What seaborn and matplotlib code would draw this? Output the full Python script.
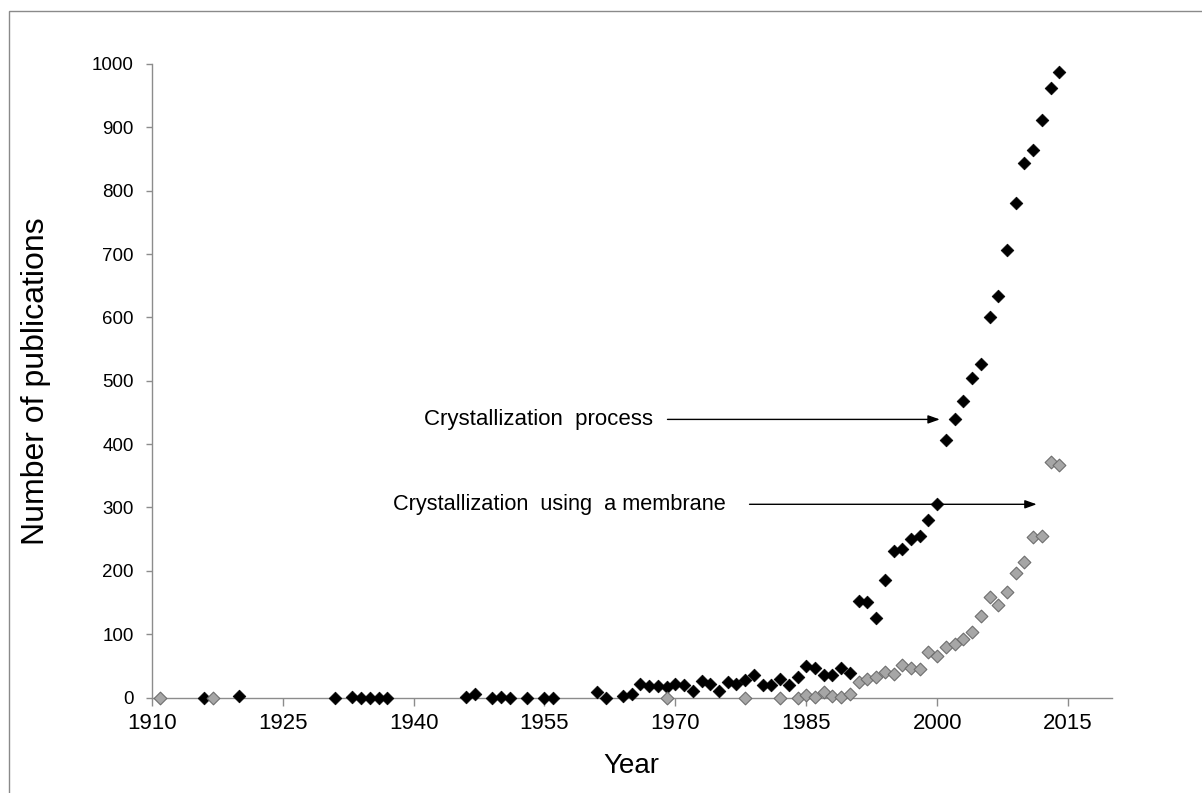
import pandas as pd
import seaborn as sns
import matplotlib.pyplot as plt
from matplotlib.patches import Rectangle

# Crystallization process (all publications)
process_years = [1916, 1920, 1931, 1933, 1934, 1935, 1936, 1937, 1946, 1947,
                 1949, 1950, 1951, 1953, 1955, 1956, 1961, 1962, 1964, 1965,
                 1966, 1967, 1968, 1969, 1970, 1971, 1972, 1973, 1974, 1975,
                 1976, 1977, 1978, 1979, 1980, 1981, 1982, 1983, 1984, 1985,
                 1986, 1987, 1988, 1989, 1990, 1991, 1992, 1993, 1994, 1995,
                 1996, 1997, 1998, 1999, 2000, 2001, 2002, 2003, 2004, 2005,
                 2006, 2007, 2008, 2009, 2010, 2011, 2012, 2013, 2014]
process_counts = [0, 2, 0, 1, 0, 0, 0, 0, 1, 5,
                  0, 1, 0, 0, 0, 0, 9, 0, 2, 5,
                  21, 18, 18, 16, 22, 19, 10, 26, 21, 10,
                  25, 21, 28, 35, 19, 19, 30, 20, 33, 50,
                  47, 35, 35, 47, 38, 153, 151, 126, 186, 232,
                  235, 250, 255, 281, 306, 407, 440, 468, 505, 526,
                  601, 634, 707, 781, 844, 864, 911, 962, 988]

# Crystallization using a membrane
membrane_years = [1911, 1917, 1969, 1978, 1982, 1984, 1985, 1986, 1987, 1988,
                  1989, 1990, 1991, 1992, 1993, 1994, 1995, 1996, 1997, 1998,
                  1999, 2000, 2001, 2002, 2003, 2004, 2005, 2006, 2007, 2008,
                  2009, 2010, 2011, 2012, 2013, 2014]
membrane_counts = [0, 0, 0, 0, 0, 0, 4, 1, 8, 2,
                   1, 5, 24, 29, 33, 41, 37, 51, 47, 45,
                   72, 66, 79, 85, 92, 103, 129, 158, 146, 167,
                   197, 214, 254, 255, 372, 367]

x_ticks = [1910, 1925, 1940, 1955, 1970, 1985, 2000, 2015]
y_ticks = [0, 100, 200, 300, 400, 500, 600, 700, 800, 900, 1000]

df_proc = pd.DataFrame({"year": process_years, "count": process_counts})
df_memb = pd.DataFrame({"year": membrane_years, "count": membrane_counts})

sns.set_style("white")
plt.rcParams["font.family"] = ["Liberation Sans", "DejaVu Sans"]
plt.rcParams["text.color"] = "black"
plt.rcParams["axes.labelcolor"] = "black"
plt.rcParams["xtick.color"] = "black"
plt.rcParams["ytick.color"] = "black"

fig = plt.figure(figsize=(12.02, 7.93), dpi=100)
ax = fig.add_axes([0.1262, 0.1204, 0.7987, 0.7989])

# outer frame (only top and left visible in the original)
fig.patches.append(Rectangle((9 / 1202, -0.2), 1.2, 0.2 + (793 - 11) / 793,
                             transform=fig.transFigure, fill=False,
                             edgecolor="#8a8a8a", lw=1.0, clip_on=False))

sns.scatterplot(data=df_proc, x="year", y="count", marker="D", s=42,
                color="black", edgecolor="black", linewidth=0.5, ax=ax,
                zorder=3, clip_on=False)
sns.scatterplot(data=df_memb, x="year", y="count", marker="D", s=42,
                color="#a6a6a6", edgecolor="#6e6e6e", linewidth=0.8, ax=ax,
                zorder=4, clip_on=False)

ax.set_xlim(1910, 2020)
ax.set_ylim(0, 1000)
ax.set_xticks(x_ticks)
ax.set_yticks(y_ticks)

for side in ["top", "right"]:
    ax.spines[side].set_visible(False)
for side in ["left", "bottom"]:
    ax.spines[side].set_color("#8c8c8c")
    ax.spines[side].set_linewidth(1.0)
    ax.spines[side].set_zorder(1)

ax.tick_params(axis="x", direction="out", length=6, width=1, color="#8c8c8c",
               labelcolor="black", labelsize=16, pad=5, bottom=True)
ax.tick_params(axis="y", direction="out", length=4, width=1, color="#8c8c8c",
               labelcolor="black", labelsize=13.5, pad=9, left=True)

ax.set_xlabel("Year", fontsize=20, color="black")
ax.set_ylabel("Number of publications", fontsize=23, color="black")
ax.xaxis.set_label_coords(0.5, -0.108)
ax.xaxis.label.set_va("center")
ax.yaxis.set_label_coords(-0.121, 0.5)
ax.yaxis.label.set_va("center")

arrow = dict(arrowstyle="-|>,head_length=0.7,head_width=0.25", color="black",
             lw=1.0, shrinkA=0, shrinkB=0)
ax.annotate("", xy=(2000.3, 439), xytext=(1969.1, 439), arrowprops=arrow)
ax.text(1967.4, 439, "Crystallization  process", fontsize=16,
        ha="right", va="center", color="black")
ax.annotate("", xy=(2011.4, 305), xytext=(1978.5, 305), arrowprops=arrow)
ax.text(1975.8, 305, "Crystallization  using  a membrane", fontsize=15.7,
        ha="right", va="center", color="black")

fig.savefig("out.png", dpi=100)
